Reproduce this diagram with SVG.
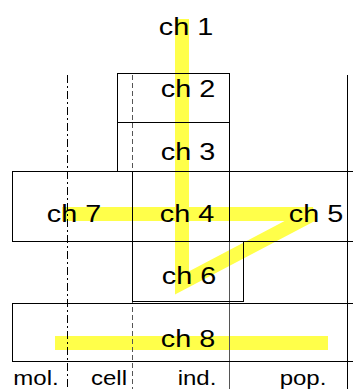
<svg xmlns="http://www.w3.org/2000/svg" width="353" height="389" viewBox="0 0 353 389">
  <style>
    .box { fill: none; stroke: #000; stroke-width: 1; }
    .lbl { font-family: "Liberation Sans", Arial, sans-serif; font-size: 24px; fill: #000; text-anchor: middle; }
    .axis { font-family: "Liberation Sans", Arial, sans-serif; font-size: 20px; fill: #000; text-anchor: middle; }
    .path { fill: none; stroke: #ffff4a; stroke-width: 14; stroke-linejoin: miter; }
  </style>
  <rect width="353" height="389" fill="#fff"/>

  <!-- highlighted route -->
  <g id="route">
    <polyline class="path" points="62,214 313,214 182,283 182,19"/>
    <line class="path" x1="55" y1="343" x2="328" y2="343"/>
  </g>

  <!-- level separators -->
  <g id="connectors">
    <line x1="67.5" y1="75" x2="67.5" y2="389" stroke="#000" stroke-width="1" stroke-dasharray="8,3,2,3"/>
    <line x1="132.5" y1="75" x2="132.5" y2="389" stroke="#555" stroke-width="1" stroke-dasharray="5,3"/>
    <line x1="229.5" y1="73" x2="229.5" y2="389" stroke="#555" stroke-width="1"/>
    <line x1="347.5" y1="75" x2="347.5" y2="389" stroke="#000" stroke-width="1"/>
  </g>

  <g id="ch2"><rect class="box" x="117.5" y="73.5" width="112" height="49"/><text class="lbl" transform="translate(188,97) scale(1.2,1)">ch 2</text></g>
  <g id="ch3"><rect class="box" x="117.5" y="122.5" width="112" height="49"/><text class="lbl" transform="translate(188,160) scale(1.2,1)">ch 3</text></g>
  <g id="row"><rect class="box" x="12.5" y="171.5" width="350" height="70"/></g>
  <g id="ch7"><text class="lbl" transform="translate(74,222) scale(1.2,1)">ch 7</text></g>
  <g id="ch4"><rect class="box" x="132.5" y="171.5" width="97" height="70"/><text class="lbl" transform="translate(187,222) scale(1.2,1)">ch 4</text></g>
  <g id="ch5"><text class="lbl" transform="translate(316,222) scale(1.2,1)">ch 5</text></g>
  <g id="ch6"><rect class="box" x="132.5" y="241.5" width="111" height="60"/><text class="lbl" transform="translate(189,284) scale(1.2,1)">ch 6</text></g>
  <g id="ch8"><rect class="box" x="12.5" y="303.5" width="350" height="58"/><text class="lbl" transform="translate(188,347) scale(1.2,1)">ch 8</text></g>
  <g id="ch1"><text class="lbl" transform="translate(186,35) scale(1.2,1)">ch 1</text></g>

  <g id="levels">
    <text class="axis" transform="translate(36,385) scale(1.2,1)">mol.</text>
    <text class="axis" transform="translate(109,385) scale(1.2,1)">cell</text>
    <text class="axis" transform="translate(197,385) scale(1.2,1)">ind.</text>
    <text class="axis" transform="translate(303,385) scale(1.2,1)">pop.</text>
  </g>
</svg>
